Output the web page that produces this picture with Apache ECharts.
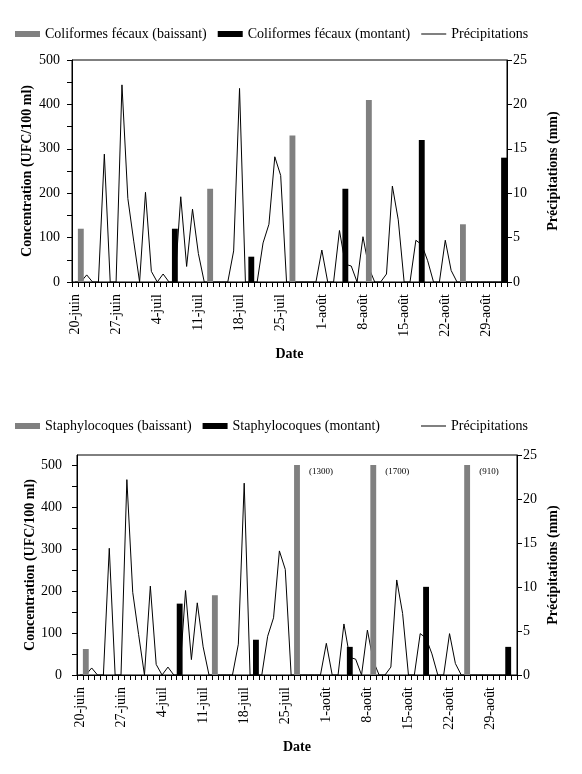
<!DOCTYPE html>
<html><head><meta charset="utf-8">
<script src="https://cdn.jsdelivr.net/npm/echarts@6/dist/echarts.min.js"></script>
<style>html,body{margin:0;padding:0;background:#fff}#c{width:582px;height:774px}</style>
</head><body><div id="c"></div><script>
// Categories: daily dates
const dates = [
 '20-juin','21-juin','22-juin','23-juin','24-juin','25-juin','26-juin','27-juin','28-juin','29-juin','30-juin',
 '1-juil','2-juil','3-juil','4-juil','5-juil','6-juil','7-juil','8-juil','9-juil','10-juil','11-juil','12-juil','13-juil','14-juil','15-juil','16-juil','17-juil','18-juil','19-juil','20-juil','21-juil','22-juil','23-juil','24-juil','25-juil','26-juil','27-juil','28-juil','29-juil','30-juil','31-juil',
 '1-août','2-août','3-août','4-août','5-août','6-août','7-août','8-août','9-août','10-août','11-août','12-août','13-août','14-août','15-août','16-août','17-août','18-août','19-août','20-août','21-août','22-août','23-août','24-août','25-août','26-août','27-août','28-août','29-août','30-août','31-août',
 '1-sept','2-sept'
];
// Daily precipitation (mm), 20-juin .. 1-sept
const precip = [
 0,0,0.8,0,0,14.4,0,0,22.2,9.4,4.6,
 0,10.1,1.2,0,0.9,0,0,9.6,1.75,8.2,3.2,0,0,0,0,0,3.5,21.8,0,0,0,4.4,6.5,14.1,12.0,0,0,0,0,0,0,
 3.6,0,0,5.8,2.0,1.8,0,5.1,1.6,0,0,0.9,10.8,7.0,0,0,4.7,4.2,2.4,0,0,4.7,1.3,0,0,0,0,0,0,0,0,
 0
];
const fecalDown = [['21-juin',120],['13-juil',210],['27-juil',330],['9-août',410],['25-août',130]];
const fecalUp   = [['7-juil',120],['20-juil',57],['5-août',210],['18-août',320],['1-sept',280]];
const staphDown = [['21-juin',62],['13-juil',190],['27-juil',1300],['9-août',1700],['25-août',910]];
const staphUp   = [['7-juil',170],['20-juil',84],['5-août',67],['18-août',210],['1-sept',67]];
const concLabels = [0,100,200,300,400,500];
const concTicks = [0,50,100,150,200,250,300,350,400,450,500];
const precipLabels = [0,5,10,15,20,25];
const clipAt = 500;

const FF = 'Liberation Serif';
const FS = 14;
const idx = d => dates.indexOf(d);
const black = '#000';

function xAxis(gi, n) {
  return {
    type: 'category', gridIndex: gi, data: dates.slice(0, n), boundaryGap: true,
    axisLine: {lineStyle: {color: black, width: 1}},
    axisTick: {show: true, interval: 0, length: 5, lineStyle: {color: black}},
    axisLabel: {interval: 6, rotate: 90, margin: 12, fontSize: FS, color: black, fontFamily: FF},
    splitLine: {show: false},
    name: 'Date', nameLocation: 'middle', nameGap: 65, nameMoveOverlap: false,
    nameTextStyle: {fontWeight: 'bold', fontSize: FS, color: black, fontFamily: FF}
  };
}
function yLeft(gi, max, gap, margin) {
  return {
    type: 'value', gridIndex: gi, min: 0, max: max, interval: 100, position: 'left',
    axisLine: {show: true, lineStyle: {color: black}},
    axisTick: {show: true, length: 5, lineStyle: {color: black}, customValues: concTicks},
    axisLabel: {fontSize: FS, color: black, fontFamily: FF, margin: margin, customValues: concLabels},
    splitLine: {show: false},
    name: 'Concentration (UFC/100 ml)', nameLocation: 'middle', nameRotate: 90, nameGap: gap,
    nameMoveOverlap: false,
    nameTextStyle: {fontWeight: 'bold', fontSize: FS, color: black, fontFamily: FF}
  };
}
function yRight(gi, gap) {
  return {
    type: 'value', gridIndex: gi, min: 0, max: 25, interval: 5, position: 'right',
    axisLine: {show: true, lineStyle: {color: black}},
    axisTick: {show: true, length: 5, lineStyle: {color: black}},
    axisLabel: {fontSize: FS, color: black, fontFamily: FF, margin: 6, customValues: precipLabels},
    splitLine: {show: false},
    name: 'Précipitations (mm)', nameLocation: 'middle', nameRotate: 90, nameGap: gap,
    nameMoveOverlap: false,
    nameTextStyle: {fontWeight: 'bold', fontSize: FS, color: black, fontFamily: FF}
  };
}
function bars(name, arr, color, xi, yi, withLabels) {
  return {
    type: 'bar', name: name, xAxisIndex: xi, yAxisIndex: yi, z: 3,
    barGap: '-100%', barCategoryGap: '0%',
    itemStyle: {color: color},
    data: arr.map(([d, v]) => {
      const item = {value: [idx(d), Math.min(v, clipAt)]};
      if (withLabels && v > clipAt) {
        item.label = {show: true, formatter: '(' + v + ')', position: [15, 2],
          align: 'left', verticalAlign: 'top', fontSize: 9, color: black, fontFamily: FF};
      }
      return item;
    })
  };
}
function rain(xi, yi) {
  return {
    type: 'line', name: 'Précipitations', xAxisIndex: xi, yAxisIndex: yi, z: 1,
    symbol: 'none', showSymbol: false, color: black,
    lineStyle: {color: black, width: 1}, data: precip
  };
}
const lineIcon = 'path://M0,0H25V1H0Z';
const legendBase = {
  itemWidth: 25, itemHeight: 6, itemGap: 11, left: 10, icon: 'rect',
  textStyle: {fontSize: FS, color: black, fontFamily: FF}
};

const chart = echarts.init(document.getElementById('c'), null, {renderer: 'canvas'});
chart.setOption({
  animation: false,
  textStyle: {fontFamily: FF},
  legend: [
    Object.assign({}, legendBase, {top: 22, data: ['Coliformes fécaux (baissant)', 'Coliformes fécaux (montant)', {name: 'Précipitations', icon: lineIcon}]}),
    Object.assign({}, legendBase, {top: 414, data: ['Staphylocoques (baissant)', 'Staphylocoques (montant)']}),
    Object.assign({}, legendBase, {top: 414, left: 416, data: [{name: 'Précipitations', icon: lineIcon}]})
  ],
  grid: [
    {left: 72, top: 60, width: 435, height: 222, show: true, borderColor: black, borderWidth: 1, containLabel: false},
    {left: 77, top: 455, width: 440, height: 220, show: true, borderColor: black, borderWidth: 1, containLabel: false}
  ],
  xAxis: [xAxis(0, 74), xAxis(1, 75)],
  yAxis: [yLeft(0, 500, 38, 12), yRight(0, 39), yLeft(1, 524, 40, 15), yRight(1, 29)],
  series: [
    bars('Coliformes fécaux (baissant)', fecalDown, '#808080', 0, 0, false),
    bars('Coliformes fécaux (montant)', fecalUp, black, 0, 0, false),
    rain(0, 1),
    bars('Staphylocoques (baissant)', staphDown, '#808080', 1, 2, true),
    bars('Staphylocoques (montant)', staphUp, black, 1, 2, false),
    rain(1, 3)
  ]
});
</script></body></html>
